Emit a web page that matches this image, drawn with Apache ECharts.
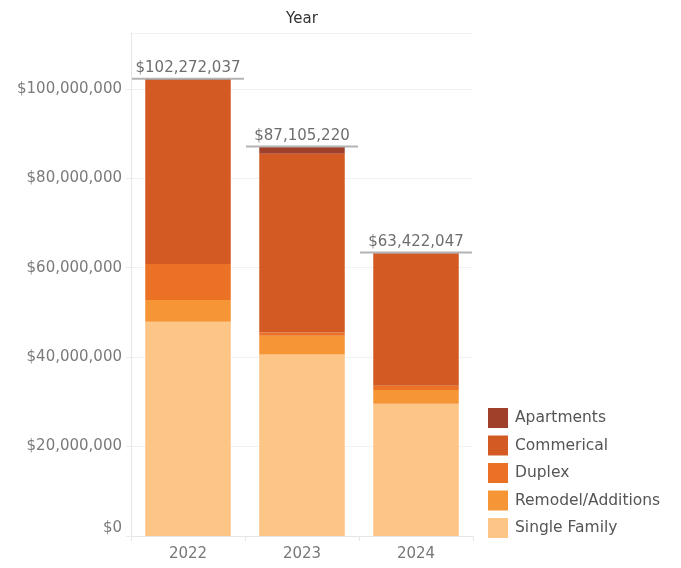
<!DOCTYPE html>
<html>
<head>
<meta charset="utf-8">
<script src="https://cdn.jsdelivr.net/npm/echarts@6/dist/echarts.min.js"></script>
<style>
  html, body { margin: 0; padding: 0; background: #fff; }
  #chart { width: 681px; height: 568px; }
</style>
</head>
<body>
<div id="chart"></div>
<script>
  // values, in dollars
  const years = ['2022', '2023', '2024']
  const singleFamily = [47900000, 40600000, 29600000]
  const remodel = [4900000, 4200000, 3060000]
  const duplex = [8050000, 700000, 960000]
  const commerical = [41122037, 40005220, 29552047]
  const apartments = [300000, 1600000, 250000]

  const fmt = v => '$' + Math.round(v).toString().replace(/\B(?=(\d{3})+(?!\d))/g, ',')

  const totals = years.map((y, i) =>
    singleFamily[i] + remodel[i] + duplex[i] + commerical[i] + apartments[i])

  const font = 'DejaVu Sans'
  const chart = echarts.init(document.getElementById('chart'))

  function barSeries (name, data, color) {
    return {
      name: name,
      type: 'bar',
      stack: 'total',
      data: data,
      barCategoryGap: '25%',
      itemStyle: { color: color },
      emphasis: { disabled: true }
    }
  }

  let option = {
    animation: false,
    textStyle: { fontFamily: font },
    title: {
      text: 'Year',
      left: 297,
      top: 7,
      textAlign: 'center',
      textStyle: { fontFamily: font, fontSize: 15, fontWeight: 'normal', color: '#333' }
    },
    grid: { left: 131, right: 208, top: 33, bottom: 32, containLabel: false },
    legend: {
      orient: 'vertical',
      left: 483,
      top: 403,
      itemWidth: 20,
      itemHeight: 20,
      itemGap: 7.5,
      icon: 'rect',
      selectedMode: false,
      data: ['Apartments', 'Commerical', 'Duplex', 'Remodel/Additions', 'Single Family'],
      textStyle: { fontFamily: font, fontSize: 15.5, color: '#555', padding: [0, 0, 0, 2] }
    },
    xAxis: {
      type: 'category',
      data: years,
      axisLine: { lineStyle: { color: '#e6e6e6' } },
      axisTick: { show: true, length: 5, lineStyle: { color: '#e6e6e6' } },
      axisLabel: { fontFamily: font, fontSize: 15, color: '#777', margin: 11 }
    },
    yAxis: {
      type: 'value',
      min: 0,
      max: 112500000,
      interval: 20000000,
      axisLine: { show: true, lineStyle: { color: '#e6e6e6' } },
      axisTick: { show: true, length: 5, lineStyle: { color: '#ececec' } },
      splitLine: { lineStyle: { color: '#f2f2f2' } },
      axisLabel: {
        fontFamily: font,
        fontSize: 15,
        color: '#7a7a7a',
        margin: 9,
        showMaxLabel: false,
        verticalAlignMinLabel: 'bottom',
        formatter: v => fmt(v)
      }
    },
    series: [
      barSeries('Single Family', singleFamily, '#fdc586'),
      barSeries('Remodel/Additions', remodel, '#f59536'),
      barSeries('Duplex', duplex, '#eb7124'),
      barSeries('Commerical', commerical, '#d35a22'),
      barSeries('Apartments', apartments, '#a0402a'),
      {
        name: 'total',
        type: 'custom',
        z: 10,
        silent: true,
        data: totals.map((t, i) => [i, t]),
        encode: { x: 0, y: 1 },
        renderItem: (params, api) => {
          let p = api.coord([api.value(0), api.value(1)])
          let w = api.size([1, 0])[0]
          return {
            type: 'group',
            children: [
              {
                type: 'line',
                shape: { x1: p[0] - w / 2 + 1, y1: p[1], x2: p[0] + w / 2 - 1, y2: p[1] },
                style: { stroke: '#b3b3b3', lineWidth: 2 }
              },
              {
                type: 'text',
                style: {
                  text: fmt(api.value(1)),
                  x: p[0],
                  y: p[1] - 3,
                  align: 'center',
                  verticalAlign: 'bottom',
                  fill: '#6e6e6e',
                  font: '15px ' + font
                }
              }
            ]
          }
        }
      }
    ]
  }
  chart.setOption(option)
</script>
</body>
</html>
